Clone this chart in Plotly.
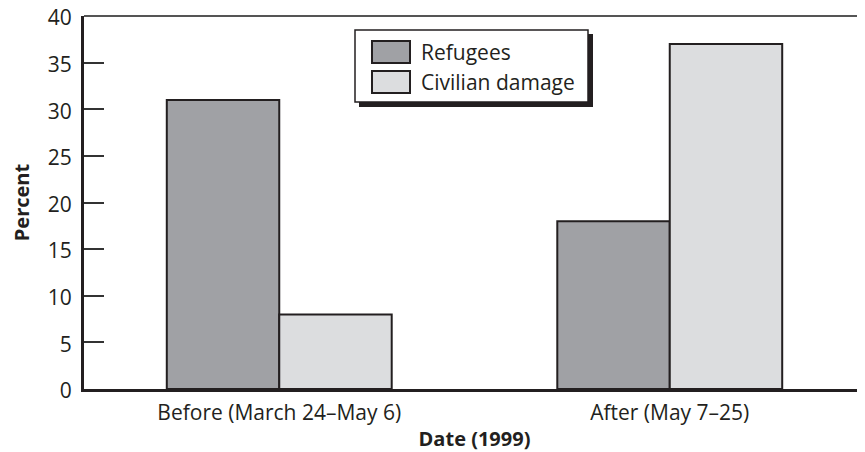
import plotly.graph_objects as go

periods = ["Before (March 24–May 6)", "After (May 7–25)"]
refugees = [31, 18]
civilian_damage = [8, 37]
series_names = ["Refugees", "Civilian damage"]
series_colors = ["#a0a1a5", "#dcdddf"]
y_ticks = [0, 5, 10, 15, 20, 25, 30, 35, 40]

# page body has an 8px margin, so shrink the figure to land on the window
OFF = 8
W, H = 865 - OFF, 452 - OFF
L, R, T, B = 84 - OFF, 0, 16 - OFF, 63
FONT = "Open Sans, Noto Sans, sans-serif"
INK = "#231f20"


def px(x):
    # screen x -> paper
    return (x - OFF - L) / (W - L - R)


def py(y):
    # screen y -> paper
    return 1 - (y - OFF - T) / (H - T - B)


fig = go.Figure()
for name, vals, col in zip(series_names, [refugees, civilian_damage], series_colors):
    fig.add_trace(go.Bar(x=periods, y=vals, name=name,
                         marker=dict(color=col, line=dict(color=INK, width=2))))

# hand drawn legend box with a drop shadow
shapes = [
    dict(type="line", xref="paper", yref="paper", x0=0, x1=1, y0=1, y1=1,
         line=dict(color="#555555", width=2)),
    dict(type="rect", xref="paper", yref="paper", x0=px(359), x1=px(593), y0=py(107), y1=py(34),
         fillcolor=INK, line=dict(width=0)),
    dict(type="rect", xref="paper", yref="paper", x0=px(355), x1=px(588), y0=py(102), y1=py(30),
         fillcolor="white", line=dict(color=INK, width=1.5)),
]
annotations = []
for i, (name, col) in enumerate(zip(series_names, series_colors)):
    top = 41 + i * 30
    shapes.append(dict(type="rect", xref="paper", yref="paper", x0=px(372), x1=px(410),
                       y0=py(top + 22), y1=py(top), fillcolor=col, line=dict(color=INK, width=2)))
    annotations.append(dict(xref="paper", yref="paper", x=px(419), y=py(top + 11), text=name,
                            showarrow=False, xanchor="left", yanchor="middle",
                            font=dict(family=FONT, size=21, color=INK)))

fig.update_layout(
    width=W, height=H, margin=dict(l=L, r=R, t=T, b=B),
    paper_bgcolor="white", plot_bgcolor="white",
    barmode="group", bargap=0.424, bargroupgap=0,
    showlegend=False, shapes=shapes, annotations=annotations,
    font=dict(family=FONT, size=21, color=INK),
)
fig.update_xaxes(range=[-0.5, 1.5], showline=True, linecolor=INK, linewidth=3,
                 showgrid=False, ticks="", tickfont=dict(size=21), automargin=False,
                 ticklabelstandoff=3,
                 title=dict(text="<b>Date (1999)</b>", font=dict(size=20), standoff=21))
fig.update_yaxes(range=[0, 40], tickvals=y_ticks, showline=True, linecolor=INK, linewidth=3,
                 showgrid=False, zeroline=False, ticks="inside", ticklen=20, tickwidth=1.5,
                 tickcolor="#333333", ticklabelstandoff=5, tickfont=dict(size=21),
                 automargin=False, ticklabeloverflow="allow", ticklabelshift=2,
                 title=dict(text="<b>Percent</b>", font=dict(size=20), standoff=33))

fig.write_html("out.html")
